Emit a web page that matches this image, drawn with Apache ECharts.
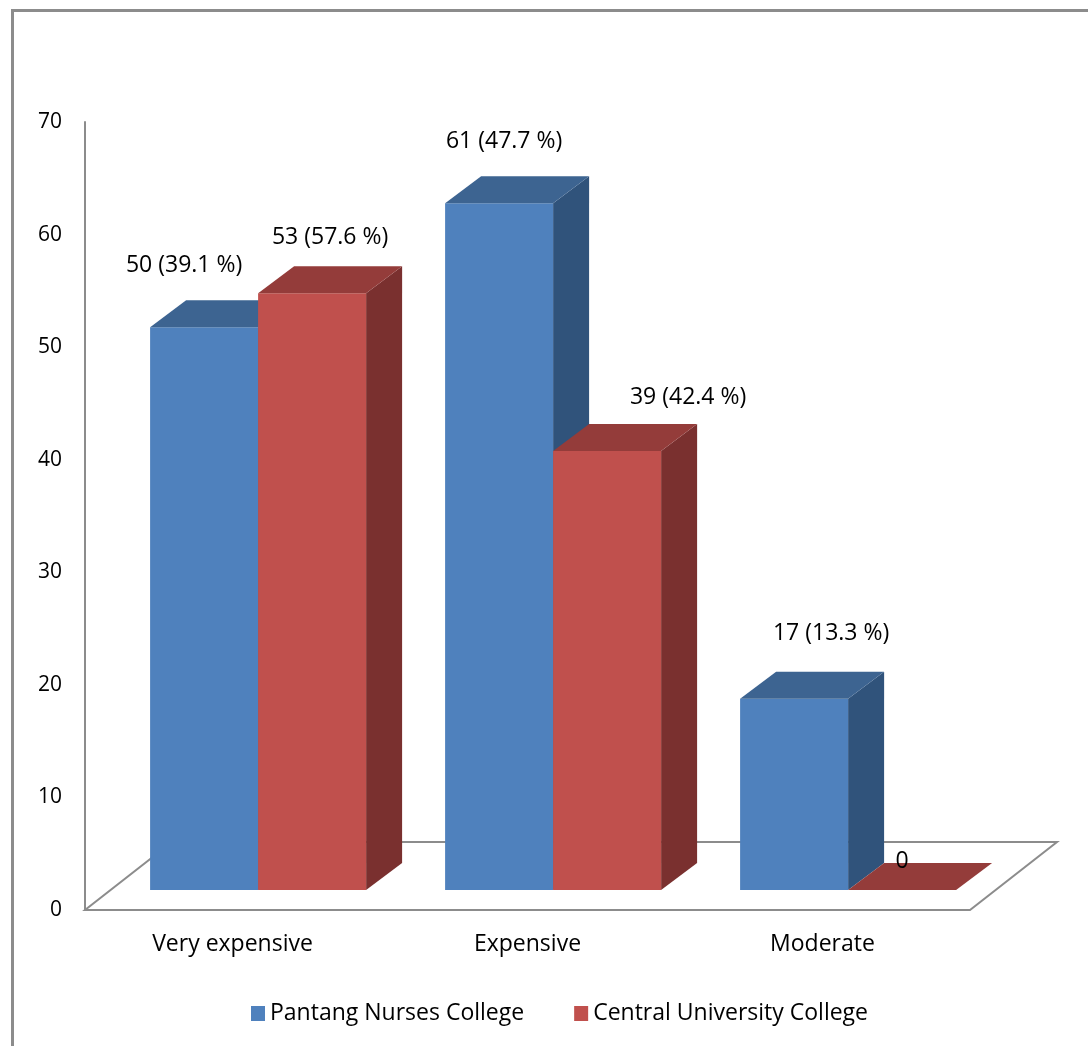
<!DOCTYPE html>
<html lang="en">
<head>
    <meta charset="UTF-8">
    <title>Cost perception</title>
    <script src="https://cdn.jsdelivr.net/npm/echarts@6/dist/echarts.min.js"></script>
    <style>
        html, body { margin: 0; padding: 0; background: #fff; }
    </style>
</head>
<body>
    <div id="chart" style="width: 1088px; height: 1046px;"></div>

    <script>
        // categories and values
        var categories = ['Very expensive', 'Expensive', 'Moderate'];
        var seriesNames = ['Pantang Nurses College', 'Central University College'];
        var pantang = [50, 61, 17];
        var central = [53, 39, 0];
        var pantangPct = ['39.1', '47.7', '13.3'];
        var centralPct = ['57.6', '42.4', null];
        var yTicks = [0, 70, 10]; // min, max, interval

        // label nudges relative to the top face centre (layout only)
        var labelNudge = [
            [[-38, -48], [-13, -48], [19, -52]],
            [[0, -42], [63, -40], [-18, -15]]
        ];

        var FONT = '"Open Sans", "Noto Sans", sans-serif';
        var faces = [
            { front: '#4F81BD', top: '#3D6491', side: '#30537B' },
            { front: '#C0504D', top: '#943C3A', side: '#7A302F' }
        ];

        // 3d geometry (pixels)
        var floorDepth = [87, -68];
        var barShift = [25.6, -20];
        var barDepth = [36, -27];
        var barWidth = 108;

        var chart = echarts.init(document.getElementById('chart'));

        function renderFloor(params, api) {
            var cs = params.coordSys;
            var x0 = cs.x, x1 = cs.x + cs.width, y = cs.y + cs.height;
            var dx = floorDepth[0], dy = floorDepth[1];
            return {
                type: 'polygon',
                shape: { points: [[x0, y], [x1, y], [x1 + dx, y + dy], [x0 + dx, y + dy]] },
                style: { fill: '#fff', stroke: '#8C8C8C', lineWidth: 2 }
            };
        }

        function makeBarRenderer(si, values, pcts) {
            return function (params, api) {
                var i = api.value(0);
                var v = api.value(1);
                var top = api.coord([i, v]);
                var base = api.coord([i, 0]);
                var fx0 = top[0] + barShift[0] + (si === 0 ? -barWidth : 0);
                var fx1 = fx0 + barWidth;
                var fy0 = top[1] + barShift[1];
                var fy1 = base[1] + barShift[1];
                var dx = barDepth[0], dy = barDepth[1];
                var c = faces[si];
                var kids = [];
                if (fy1 - fy0 > 0.5) {
                    kids.push({
                        type: 'polygon',
                        shape: { points: [[fx1, fy0], [fx1 + dx, fy0 + dy], [fx1 + dx, fy1 + dy], [fx1, fy1]] },
                        style: { fill: c.side }
                    });
                    kids.push({
                        type: 'rect',
                        shape: { x: fx0, y: fy0, width: barWidth, height: fy1 - fy0 },
                        style: { fill: c.front }
                    });
                }
                kids.push({
                    type: 'polygon',
                    shape: { points: [[fx0, fy0], [fx1, fy0], [fx1 + dx, fy0 + dy], [fx0 + dx, fy0 + dy]] },
                    style: { fill: c.top }
                });
                var cx = (fx0 + fx1) / 2 + dx / 2;
                var cy = fy0 + dy / 2;
                var n = labelNudge[si][i];
                var txt = pcts[i] === null ? String(values[i]) : values[i] + ' (' + pcts[i] + ' %)';
                kids.push({
                    type: 'text',
                    style: {
                        text: txt, x: cx + n[0], y: cy + n[1],
                        align: 'center', verticalAlign: 'middle',
                        fontSize: 23, fontFamily: FONT, fill: '#000'
                    }
                });
                return { type: 'group', children: kids };
            };
        }

        function toData(values) {
            return values.map(function (v, i) { return [i, v]; });
        }

        var option = {
            animation: false,
            textStyle: { fontFamily: FONT },
            graphic: [{
                type: 'rect', left: 10, top: 8, z: -10,
                shape: { width: 1200, height: 1200 },
                style: { fill: 'none', stroke: '#8C8C8C', lineWidth: 3 }
            }],
            grid: { left: 85, right: 118, top: 122, bottom: 136 },
            legend: {
                data: seriesNames,
                left: 246, top: 997,
                icon: 'rect', itemWidth: 14, itemHeight: 15, itemGap: 50,
                textStyle: { fontSize: 23, color: '#000', fontFamily: FONT }
            },
            xAxis: {
                type: 'category',
                data: categories,
                axisLine: { show: false },
                axisTick: { show: false },
                axisLabel: { fontSize: 23, color: '#000', margin: 23, fontFamily: FONT }
            },
            yAxis: {
                type: 'value',
                min: yTicks[0], max: yTicks[1], interval: yTicks[2],
                axisLine: { show: true, lineStyle: { color: '#8C8C8C', width: 2 } },
                axisTick: { show: false },
                splitLine: { show: false },
                axisLabel: { fontSize: 21, color: '#000', margin: 23, fontFamily: FONT }
            },
            series: [
                {
                    name: 'floor', type: 'custom', renderItem: renderFloor,
                    data: [[0, 0]], silent: true, z: 1
                },
                {
                    name: seriesNames[0], type: 'custom', z: 2,
                    itemStyle: { color: faces[0].front },
                    renderItem: makeBarRenderer(0, pantang, pantangPct),
                    data: toData(pantang)
                },
                {
                    name: seriesNames[1], type: 'custom', z: 3,
                    itemStyle: { color: faces[1].front },
                    renderItem: makeBarRenderer(1, central, centralPct),
                    data: toData(central)
                }
            ]
        };
        chart.setOption(option);
    </script>
</body>
</html>
